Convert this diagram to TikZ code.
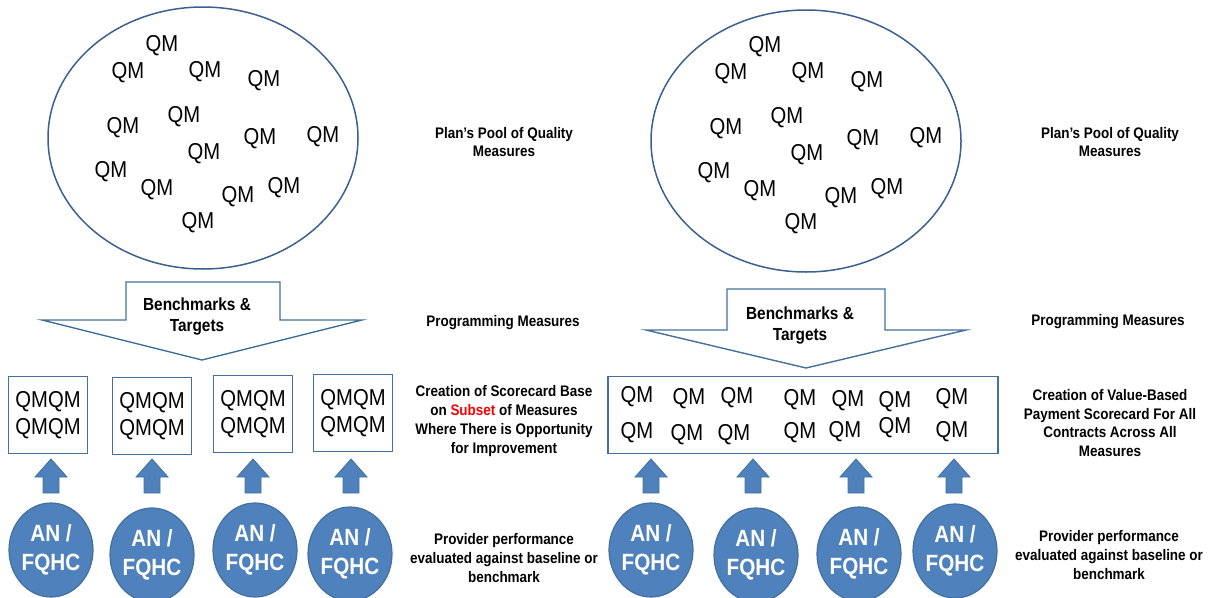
\documentclass[tikz,border=0pt]{standalone}
\usepackage{fontspec}
\setmainfont{Liberation Sans}[FakeStretch=0.88]
\usetikzlibrary{shapes.geometric}
\definecolor{qmblue}{HTML}{4F81BD}
\definecolor{qmedge}{HTML}{41719C}
\definecolor{pooledge}{HTML}{3B5F8F}
\tikzset{pool/.style     = {ellipse, draw=pooledge, line width=1.5pt,
                            minimum width=310pt, minimum height=262pt},
         qm/.style       = {inner sep=0pt, font=\fontsize{23}{27}\selectfont},
         qmbox/.style    = {draw=qmedge, line width=1.6pt, minimum width=#1,
                            minimum height=77pt, align=center, inner sep=0pt,
                            font=\fontsize{23}{27}\selectfont},
         qmbox/.default  = 79pt,
         provider/.style = {ellipse, fill=qmblue, draw=qmedge, line width=1.2pt,
                            minimum width=84pt, minimum height=94pt, inner sep=0pt,
                            text=white, align=center,
                            font=\fontsize{23.5}{29}\selectfont\bfseries},
         lbl/.style      = {align=center, inner sep=0pt,
                            font=\fontsize{15.3}{18.7}\selectfont\bfseries},
         bench/.style    = {lbl, font=\fontsize{17.5}{21}\selectfont\bfseries},
         downarrow/.style= {draw=qmedge, line width=1.4pt, fill=white},
         uparrow/.style  = {fill=qmblue, draw=qmedge, line width=0.8pt}
        }

\begin{document}
\begin{tikzpicture}[x=1pt, y=-1pt]
  \useasboundingbox (0,0) rectangle (1209,597);

  \node[pool] (poolL) at (203,138) {};
  \node[pool] (poolR) at (806,141) {};
  \foreach \n/\px/\py in {1/162/46, 2/128/73, 3/205/72, 4/264/81, 5/123/128,
                          6/184/117, 7/260/139, 8/323/137, 9/204/154, 10/111/172,
                          11/157/190, 12/238/197, 13/284/188, 14/198/223}
   {\node[qm] (qmL\n) at (\px,\py) {QM};
    \node[qm] (qmR\n) at (\px+603,\py+1) {QM};}

  \draw[downarrow] (42,320) -- (126,320) -- (126,282) -- (280,282) -- (280,320)
                   -- (362,320) -- (202,360) -- cycle;
  \node[bench] (benchL) at (197,317) {Benchmarks \&\\Targets};
  \draw[downarrow] (646,330) -- (727,330) -- (727,289) -- (885,289) -- (885,330)
                   -- (966,330) -- (806,368) -- cycle;
  \node[bench] (benchR) at (800,326) {Benchmarks \&\\Targets};

  \foreach \n/\bx/\by in {1/48/415, 2/152/416, 3/253/414, 4/353/413}
    \node[qmbox] (boxL\n) at (\bx,\by) {QMQM\\QMQM};

  \node[qmbox=390pt] (boxR) at (803,415) {};
  \foreach \n/\px/\py in {1/637/397, 2/689/399, 3/737/398, 4/800/400, 5/848/401,
                          6/895/402, 7/952/399, 8/637/433, 9/687/435, 10/734/435,
                          11/800/433, 12/845/432, 13/895/428, 14/952/432}
    \node[qm] (qmB\n) at (\px,\py) {QM};

  \foreach \x in {51,152,253,351,651,753,856,954}
    \draw[uparrow] (\x-16,477) -- (\x,459) -- (\x+16,477) -- (\x+8,477)
                   -- (\x+8,493) -- (\x-8,493) -- (\x-8,477) -- cycle;

  \foreach \n/\cx/\cy in {L1/51/550, L2/152/555, L3/255/550, L4/350/554,
                          R1/651/550, R2/756/555, R3/859/554, R4/955/551}
    \node[provider] (prov\n) at (\cx,\cy) {AN /\\FQHC};

  \node[lbl] (poolTxtL) at (504,142) {Plan’s Pool of Quality\\Measures};
  \node[lbl] (poolTxtR) at (1110,142) {Plan’s Pool of Quality\\Measures};
  \node[lbl] (progTxtL) at (503,323) {Programming Measures};
  \node[lbl] (progTxtR) at (1108,322) {Programming Measures};
  \node[lbl] (scoreTxtL) at (504,421) {Creation of Scorecard Base\\
        on \textcolor{red}{Subset} of Measures\\Where There is Opportunity\\for Improvement};
  \node[lbl] (scoreTxtR) at (1110,423) {Creation of Value-Based\\
        Payment Scorecard For All\\Contracts Across All\\Measures};
  \node[lbl] (provTxtL) at (504,558) {Provider performance\\
        evaluated against baseline or\\benchmark};
  \node[lbl] (provTxtR) at (1109,555) {Provider performance\\
        evaluated against baseline or\\benchmark};
\end{tikzpicture}
\end{document}
